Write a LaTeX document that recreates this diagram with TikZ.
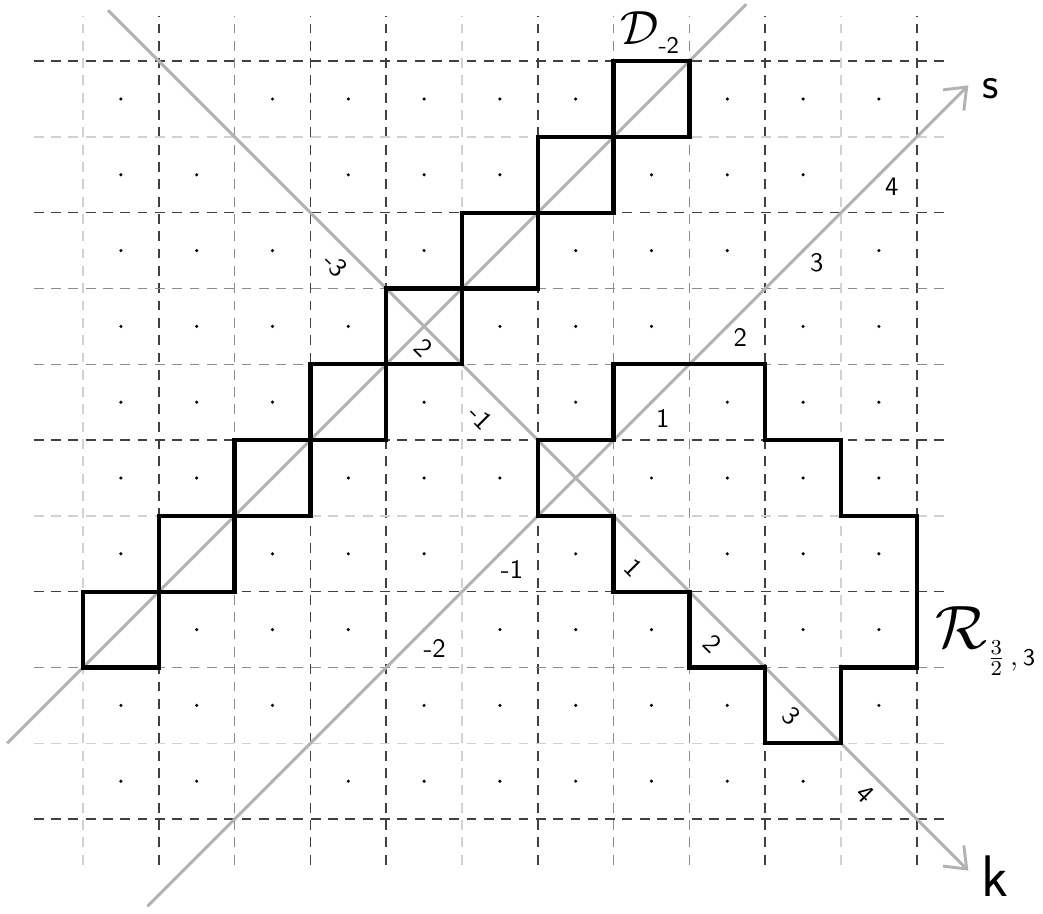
\documentclass[tikz,border=0pt]{standalone}
\usepackage{graphicx}
\usetikzlibrary{arrows.meta}
\tikzset{
  gdark/.style={draw=black!75, line width=0.55pt, dash pattern=on 3.7pt off 2.8pt},
  gmed/.style={draw=black!45, line width=0.55pt, dash pattern=on 3.7pt off 2.8pt},
  glight/.style={draw=black!18, line width=0.55pt, dash pattern=on 3.7pt off 2.8pt},
  axisline/.style={draw=black!30, line width=1.1pt},
  axisarrow/.style={axisline, -{Straight Barb[length=7pt,width=11pt,line width=1.1pt]}},
  cellbox/.style={draw=black, line width=1.6pt, line join=miter},
  tick/.style={font=\sffamily\fontsize{10}{12}\selectfont, inner sep=0pt},
  ktick/.style={tick, rotate=-45},
  axlabel/.style={inner sep=0pt}
}
\begin{document}
\begin{tikzpicture}[x=1cm,y=1cm]
\useasboundingbox (-1.095,-1.242) rectangle (12.665,10.806);
% grid
\foreach \i/\c in {0/glight,1/gdark,2/gmed,3/gdark,4/gdark,5/glight,6/gdark,7/gmed,8/gmed,9/gdark,10/glight,11/gdark}
  \draw[\c] (\i,-0.6) -- (\i,10.6);
\foreach \j/\c in {10/gdark,9/glight,8/gdark,7/gmed,6/gmed,5/gdark,4/glight,3/gdark,2/gmed,1/glight,0/gdark}
  \draw[\c] (-0.65,\j) -- (11.45,\j);
% dots
\foreach \i in {0,...,10}
  \foreach \j in {0,...,9}
    \fill (\i+0.5,\j+0.5) circle (0.65pt);
% axes
\coordinate (dA) at (-1,1);
\coordinate (dB) at (8.75,10.75);
\coordinate (sA) at (0.85,-1.15);
\coordinate (sB) at (11.68,9.68);
\coordinate (kA) at (0.33,10.67);
\coordinate (kB) at (11.68,-0.68);
\draw[axisline] (dA) -- (dB);
\draw[axisarrow] (sA) -- (sB);
\draw[axisarrow] (kA) -- (kB);
% diagonal squares D_{-2}
\foreach \i in {0,...,7}
  \draw[cellbox] (\i,\i+2) rectangle (\i+1,\i+3);
% region R
\draw[cellbox] (6,5) -- (7,5) -- (7,6) -- (9,6) -- (9,5) -- (10,5) -- (10,4) -- (11,4)
  -- (11,2) -- (10,2) -- (10,1) -- (9,1) -- (9,2) -- (8,2) -- (8,3) -- (7,3) -- (7,4) -- (6,4) -- cycle;
% s ticks
\node[tick] (sm2) at (4.64,2.25) {-2};
\node[tick] (sm1) at (5.66,3.29) {-1};
\node[tick] (s1) at (7.65,5.28) {1};
\node[tick] (s2) at (8.67,6.35) {2};
\node[tick] (s3) at (9.68,7.34) {3};
\node[tick] (s4) at (10.67,8.34) {4};
% k ticks
\node[ktick] (km3) at (3.33,7.31) {-3};
\node[ktick] (km2) at (4.49,6.22) {2};
\node[ktick] (km1) at (5.25,5.30) {-1};
\node[ktick] (k1) at (7.26,3.32) {1};
\node[ktick] (k2) at (8.31,2.31) {2};
\node[ktick] (k3) at (9.35,1.36) {3};
\node[ktick] (k4) at (10.32,0.33) {4};
% axis names
\node[axlabel, font=\sffamily\fontsize{17}{20}\selectfont] (slab) at (11.97,9.64) {s};
\node[axlabel, font=\sffamily\fontsize{22}{26}\selectfont] (klab) at (12.03,-0.75) {k};
% set names
\node[axlabel, anchor=base west] (Dlab) at (7.08,10.22)
  {\scalebox{1.8}{$\mathcal{D}$}\raisebox{-3.5pt}{\sffamily\fontsize{9}{10}\selectfont -2}};
\node[axlabel, anchor=base west] (Rlab) at (11.24,2.25)
  {\scalebox{2.3}{$\mathcal{R}$}\raisebox{-6.5pt}{\fontsize{11}{12}\selectfont$\frac{3}{2}$\,,\,\sffamily\fontsize{9}{10}\selectfont 3}};
\end{tikzpicture}
\end{document}
